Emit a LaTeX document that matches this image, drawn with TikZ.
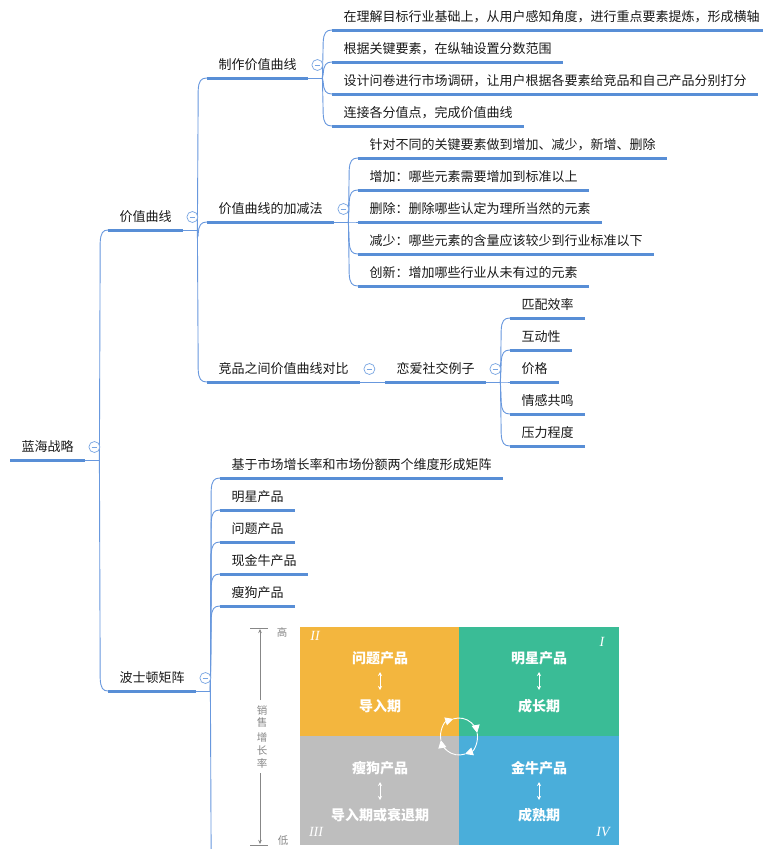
\documentclass[tikz,border=0pt]{standalone}
\usepackage{fontspec}
\newfontfamily\cjk{Noto Sans CJK SC}
\newfontfamily\rom{Liberation Serif}
\usetikzlibrary{calc,arrows.meta}
\definecolor{ulc}{RGB}{88,142,214}
\definecolor{connc}{RGB}{104,152,222}
\definecolor{circc}{RGB}{120,165,226}
\definecolor{txtc}{RGB}{25,25,25}
\definecolor{qorange}{RGB}{243,182,62}
\definecolor{qgreen}{RGB}{58,188,150}
\definecolor{qgray}{RGB}{190,190,190}
\definecolor{qblue}{RGB}{74,174,218}
\definecolor{axc}{RGB}{135,135,135}
\tikzset{
  topic/.style={anchor=south west, inner xsep=11.5pt, inner ysep=0pt, text height=11pt, text depth=8pt,
    font=\cjk\fontsize{13}{13}\selectfont, text=txtc},
  ul/.style={draw=ulc, line width=3pt},
  conn/.style={draw=connc, line width=0.9pt, to path={let \p1=(\tikztostart), \p2=(\tikztotarget), \n1={sign(\y2-\y1)} in
     -- (\x1+0.8pt, \y2-\n1*12pt) .. controls (\x1+1.3pt, \y2-\n1*3pt) and (\x1+3.5pt, \y2) .. (\p2)}},
  mcirc/.style={circle, draw=circc, fill=white, minimum size=11pt, inner sep=0pt, line width=0.7pt,
    path picture={\draw[circc, line width=0.7pt] ([xshift=-2.8pt]path picture bounding box.center) -- ([xshift=2.8pt]path picture bounding box.center);}},
  qt/.style={font=\cjk\bfseries\fontsize{14}{14}\selectfont, text=white, inner sep=0pt},
  rn/.style={font=\rom\itshape\fontsize{14}{14}\selectfont, text=white, inner sep=0pt},
  dbl/.style={draw=white, line width=0.7pt, {Stealth[length=4pt,width=4pt]}-{Stealth[length=4pt,width=4pt]}},
  cyc/.style={draw=white, line width=0.9pt, -{Triangle[length=8pt,width=8pt]}},
  axl/.style={draw=axc, line width=0.6pt},
  axt/.style={font=\cjk\fontsize{10.5}{10.5}\selectfont, text=axc, inner sep=0pt}
}
\begin{document}
\begin{tikzpicture}[x=1pt,y=-1pt]
\useasboundingbox (0,0) rectangle (763,849);
\clip (0,0) rectangle (763,849);
\fill[white] (0,0) rectangle (763,849);

% ---------- topics ----------
\node[topic] (root) at (10,460) {蓝海战略};
\node[topic] (v1) at (108,230) {价值曲线};
\node[topic] (v2) at (108,691) {波士顿矩阵};
\node[topic] (a1) at (207,78) {制作价值曲线};
\node[topic] (a2) at (207,222) {价值曲线的加减法};
\node[topic] (a3) at (207,382) {竞品之间价值曲线对比};
\node[topic] (b) at (385,382) {恋爱社交例子};
\node[topic] (b1) at (510,318) {匹配效率};
\node[topic] (b2) at (510,350) {互动性};
\node[topic] (b3) at (510,382) {价格};
\node[topic] (b4) at (510,414) {情感共鸣};
\node[topic] (b5) at (510,446) {压力程度};
\node[topic] (c1) at (332,30) {在理解目标行业基础上，从用户感知角度，进行重点要素提炼，形成横轴};
\node[topic] (c2) at (332,62) {根据关键要素，在纵轴设置分数范围};
\node[topic] (c3) at (332,94) {设计问卷进行市场调研，让用户根据各要素给竞品和自己产品分别打分};
\node[topic] (c4) at (332,126) {连接各分值点，完成价值曲线};
\node[topic] (d1) at (358,158) {针对不同的关键要素做到增加、减少，新增、删除};
\node[topic] (d2) at (358,190) {增加：哪些元素需要增加到标准以上};
\node[topic] (d3) at (358,222) {删除：删除哪些认定为理所当然的元素};
\node[topic] (d4) at (358,254) {减少：哪些元素的含量应该较少到行业标准以下};
\node[topic] (d5) at (358,286) {创新：增加哪些行业从未有过的元素};
\node[topic] (e1) at (220,478) {基于市场增长率和市场份额两个维度形成矩阵};
\node[topic] (e2) at (220,510) {明星产品};
\node[topic] (e3) at (220,542) {问题产品};
\node[topic] (e4) at (220,574) {现金牛产品};
\node[topic] (e5) at (220,606) {瘦狗产品};
\coordinate (img) at (222,880);

\foreach \n in {root,v1,v2,a1,a2,a3,b,b1,b2,b3,b4,b5,c1,c2,c3,c4,d1,d2,d3,d4,d5,e1,e2,e3,e4,e5}
  \draw[ul] (\n.south west) -- (\n.south east);

% ---------- branch points ----------
\foreach \n in {root,v1,v2,a1,a2,b}
  \coordinate (bp\n) at ($(\n.south east)+(14,0)$);
\foreach \n in {root,v1,v2,a1,a2,b}
  \draw[draw=connc, line width=0.9pt] (\n.south east) -- (bp\n);

% ---------- connectors ----------
\draw[conn] (bproot) to (v1.south west);
\draw[conn] (bproot) to (v2.south west);
\foreach \c in {a1,a2,a3} \draw[conn] (bpv1) to (\c.south west);
\foreach \c in {c1,c2,c3,c4} \draw[conn] (bpa1) to (\c.south west);
\foreach \c in {d1,d2,d3,d4,d5} \draw[conn] (bpa2) to (\c.south west);
\foreach \c in {b1,b2,b3,b4,b5} \draw[conn] (bpb) to (\c.south west);
\foreach \c in {e1,e2,e3,e4,e5} \draw[conn] (bpv2) to (\c.south west);
\draw[conn] (bpv2) to (img);
\draw[draw=connc, line width=0.9pt] (a3.south east) -- (b.south west);

% ---------- collapse circles ----------
\foreach \n in {root,v1,v2,a1,a2,a3,b}
  \node[mcirc] (m\n) at ($(\n.south east)+(9,-13)$) {};

% ---------- BCG matrix ----------
\fill[qorange] (300,627) rectangle (459,736);
\fill[qgreen] (459,627) rectangle (619,736);
\fill[qgray] (300,736) rectangle (459,845);
\fill[qblue] (459,736) rectangle (619,845);

\node[qt] (q2a) at (380,658) {问题产品};
\node[qt] (q2b) at (380,706) {导入期};
\node[qt] (q1a) at (539,658) {明星产品};
\node[qt] (q1b) at (539,706) {成长期};
\node[qt] (q3a) at (380,768) {瘦狗产品};
\node[qt] (q3b) at (380,815) {导入期或衰退期};
\node[qt] (q4a) at (539,768) {金牛产品};
\node[qt] (q4b) at (539,815) {成熟期};
\draw[dbl] (q2a) ++(0,14) -- ++(0,18);
\draw[dbl] (q1a) ++(0,14) -- ++(0,18);
\draw[dbl] (q3a) ++(0,14) -- ++(0,18);
\draw[dbl] (q4a) ++(0,14) -- ++(0,18);

\node[rn] (r2) at (315,636) {II};
\node[rn] (r1) at (602,642) {I};
\node[rn] (r3) at (316,832) {III};
\node[rn] (r4) at (603,832) {IV};

\coordinate (cc) at (459,736.5);
\draw[cyc] (cc) ++(-191:18.5) arc[start angle=-191, end angle=-108, radius=18.5];
\draw[cyc] (cc) ++(-108:18.5) arc[start angle=-108, end angle=-11, radius=18.5];
\draw[cyc] (cc) ++(-11:18.5) arc[start angle=-11, end angle=71, radius=18.5];
\draw[cyc] (cc) ++(71:18.5) arc[start angle=71, end angle=169, radius=18.5];

% axis
\draw[axl] (250,628) -- (268,628);
\draw[axl] (250,845) -- (268,845);
\draw[axl, -{Stealth[length=4pt,width=3.5pt]}] (260,700) -- (260,629);
\draw[axl, -{Stealth[length=4pt,width=3.5pt]}] (260,773) -- (260,844);
\node[axt] (hi) at (282,632) {高};
\node[axt] (lo) at (283,841) {低};
\node[axt] (s1) at (262,710) {销};
\node[axt] (s2) at (262,723) {售};
\node[axt] (s3) at (262,737) {增};
\node[axt] (s4) at (262,750) {长};
\node[axt] (s5) at (262,763) {率};
\end{tikzpicture}
\end{document}
